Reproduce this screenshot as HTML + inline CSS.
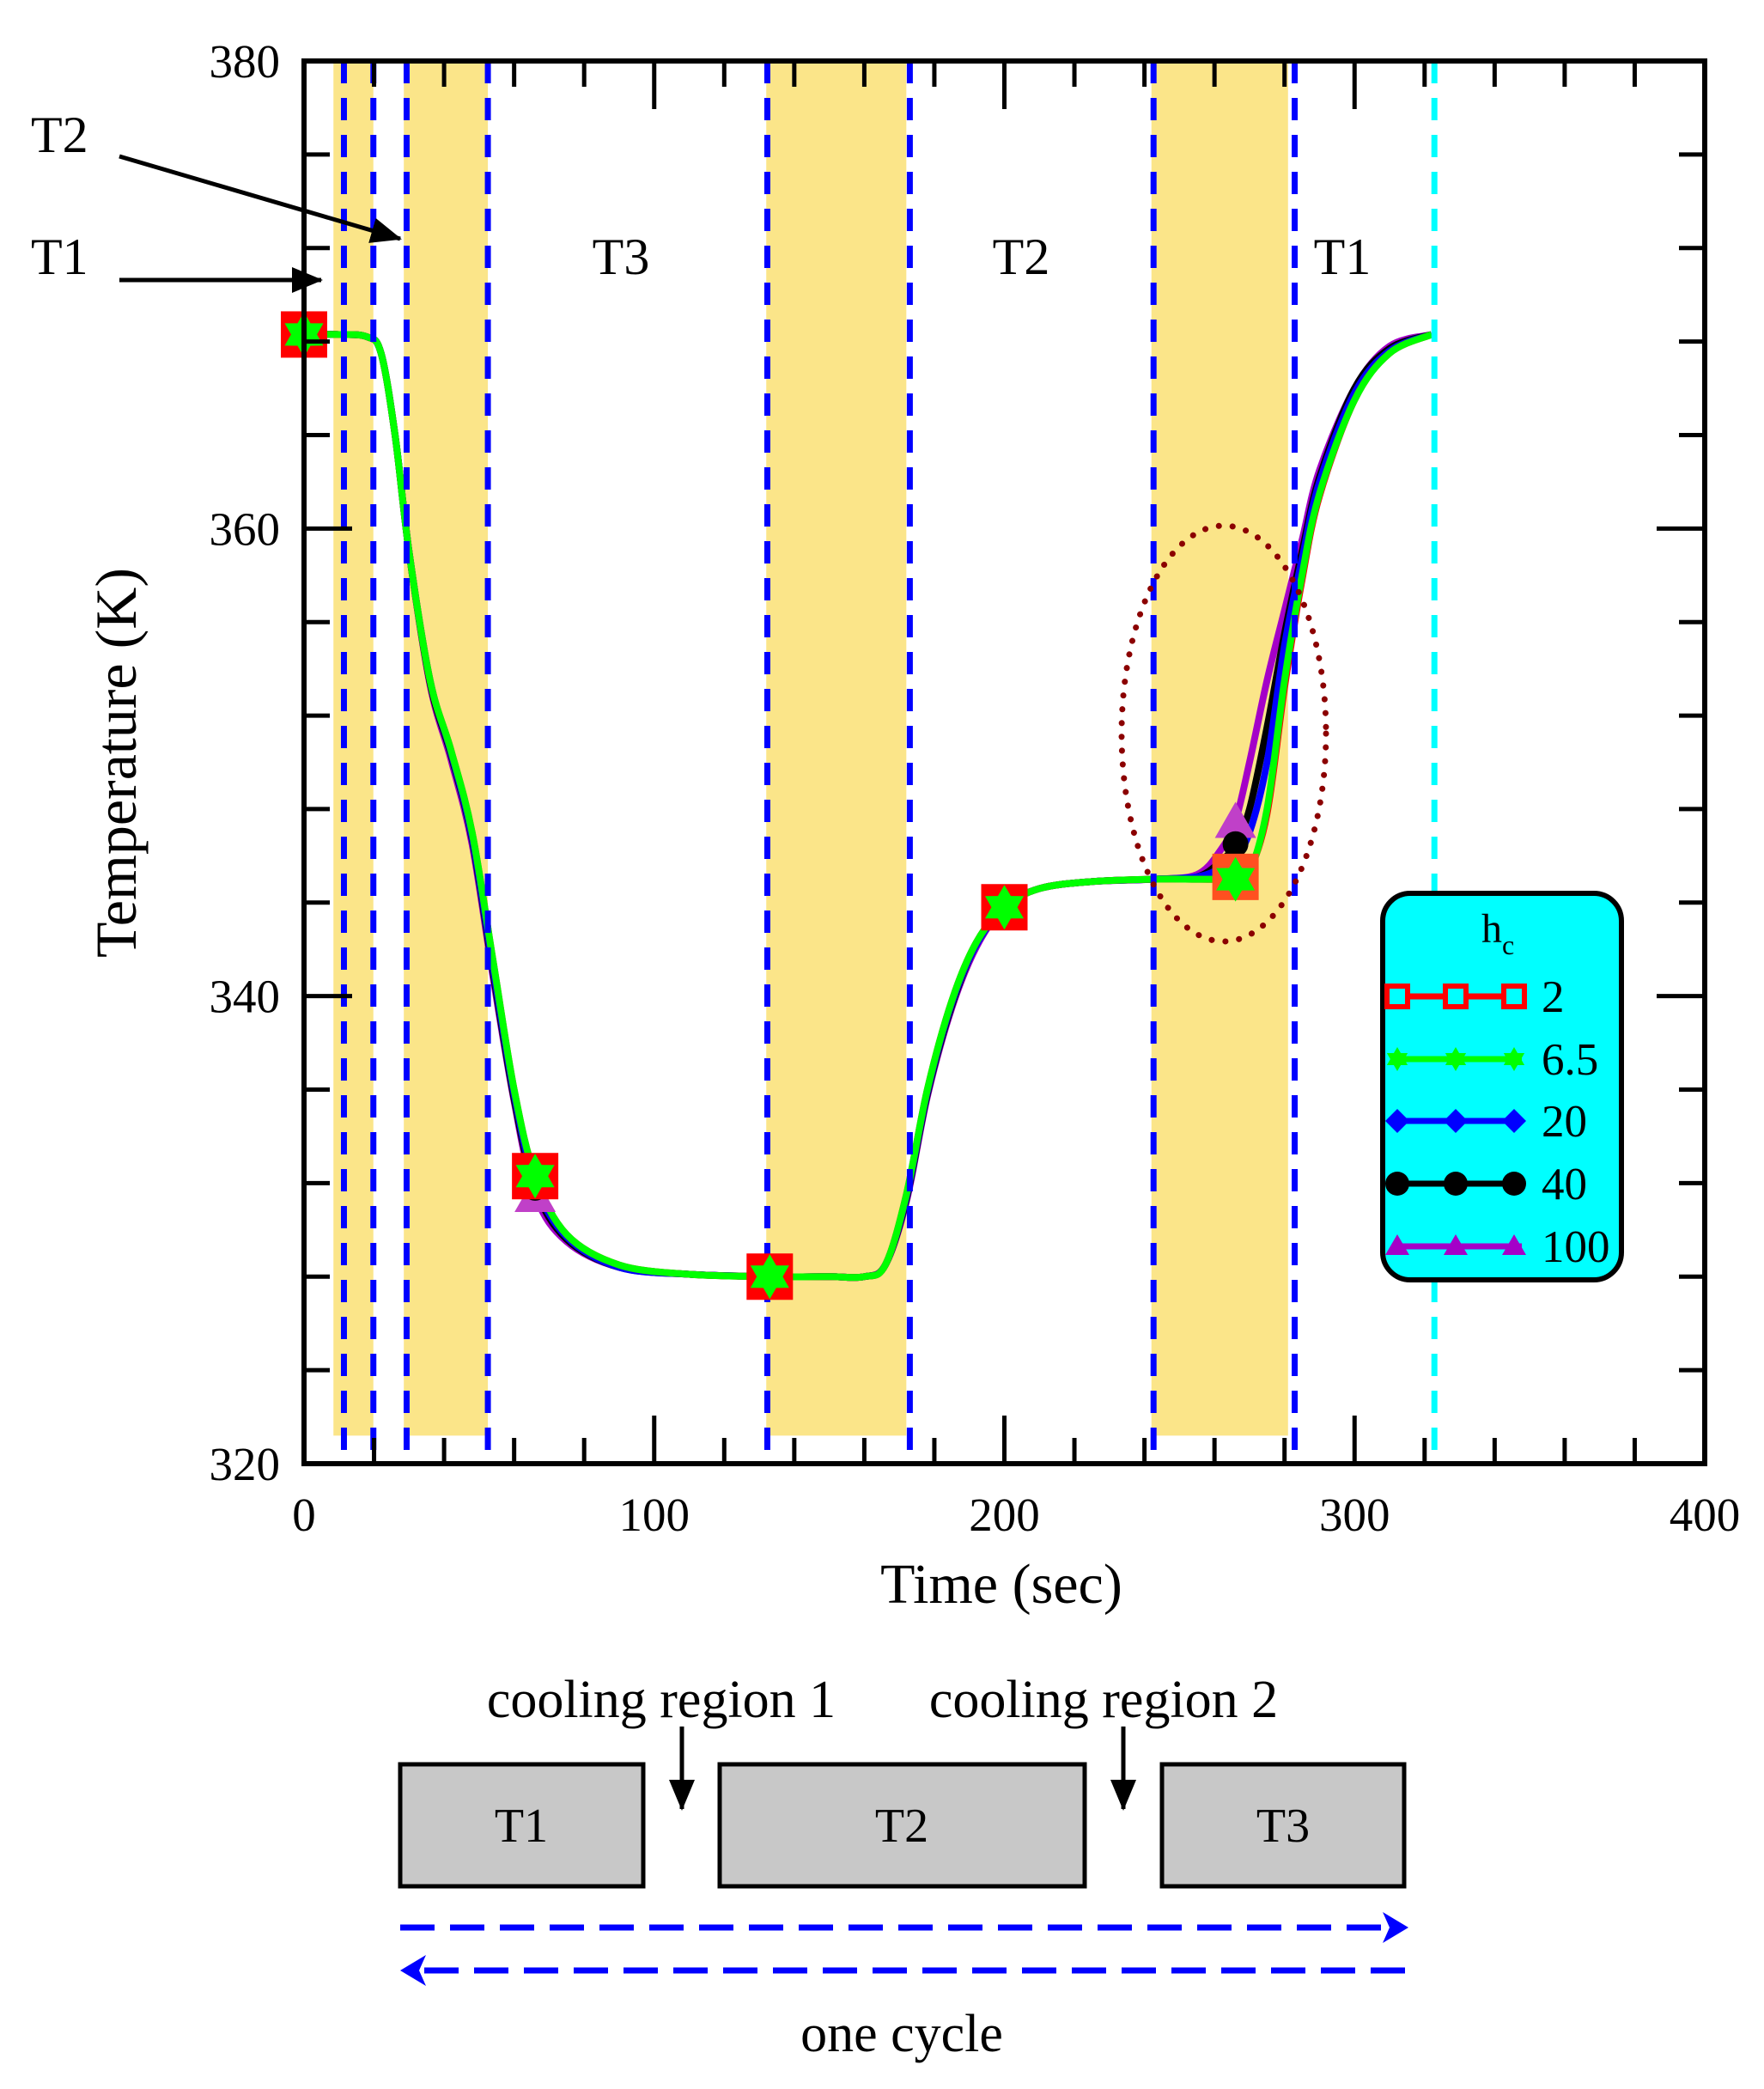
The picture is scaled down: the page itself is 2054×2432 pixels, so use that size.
<!DOCTYPE html>
<html><head><meta charset="utf-8"><style>
html,body{margin:0;padding:0;background:#fff;}
svg{display:block;font-family:"Liberation Serif",serif;}
</style></head><body>
<svg id="chart" width="2054" height="2432" viewBox="0 0 2054 2432" xmlns="http://www.w3.org/2000/svg">
<defs>
<marker id="ah" markerWidth="36" markerHeight="30" refX="34" refY="15" orient="auto" markerUnits="userSpaceOnUse" viewBox="0 0 36 30"><path d="M0,0 L36,15 L0,30 z" fill="#000"/></marker>
</defs>
<g id="shades"></g>
<g id="curves"></g>
<g id="vlines"></g>
<g id="markers"></g>
<g id="axes"></g>
<ellipse cx="1425" cy="854" rx="119" ry="242" fill="none" stroke="#8b0000" stroke-width="7" stroke-dasharray="0.1 16" stroke-linecap="round"/>
<text x="1166" y="1866" font-size="66" text-anchor="middle">Time (sec)</text>
<text transform="translate(158,888) rotate(-90)" font-size="68" text-anchor="middle">Temperature (K)</text>
<text x="36" y="177" font-size="60">T2</text>
<text x="36" y="319" font-size="60">T1</text>
<line x1="139" y1="182" x2="466" y2="278" stroke="#000" stroke-width="5" marker-end="url(#ah)"/>
<line x1="139" y1="326" x2="374" y2="326" stroke="#000" stroke-width="5" marker-end="url(#ah)"/>
<text x="723" y="319" font-size="60" text-anchor="middle">T3</text>
<text x="1189" y="319" font-size="60" text-anchor="middle">T2</text>
<text x="1563" y="319" font-size="60" text-anchor="middle">T1</text>
<g>
<rect x="1610" y="1040" width="278" height="450" rx="32" fill="#00ffff" stroke="#000" stroke-width="6"/>
<text x="1725" y="1097" font-size="48">h<tspan font-size="32" dy="14">c</tspan></text>
<g id="legend"></g>
</g>
<g>
<rect x="466" y="2054" width="283" height="142" fill="#c8c8c8" stroke="#000" stroke-width="5"/>
<rect x="838" y="2054" width="425" height="142" fill="#c8c8c8" stroke="#000" stroke-width="5"/>
<rect x="1353" y="2054" width="282" height="142" fill="#c8c8c8" stroke="#000" stroke-width="5"/>
<text x="607" y="2144" font-size="56" text-anchor="middle">T1</text>
<text x="1050" y="2144" font-size="56" text-anchor="middle">T2</text>
<text x="1494" y="2144" font-size="56" text-anchor="middle">T3</text>
<text x="770" y="1999" font-size="62" text-anchor="middle">cooling region 1</text>
<text x="1285" y="1999" font-size="62" text-anchor="middle">cooling region 2</text>
<line x1="794" y1="2010" x2="794" y2="2106" stroke="#000" stroke-width="5" marker-end="url(#ah)"/>
<line x1="1308" y1="2010" x2="1308" y2="2106" stroke="#000" stroke-width="5" marker-end="url(#ah)"/>
<line x1="466" y1="2244" x2="1615" y2="2244" stroke="#0000ff" stroke-width="7" stroke-dasharray="40 18"/>
<path d="M1640,2244 L1610,2226 L1618,2244 L1610,2262 z" fill="#0000ff"/>
<line x1="1636" y1="2294" x2="488" y2="2294" stroke="#0000ff" stroke-width="7" stroke-dasharray="40 18"/>
<path d="M466,2294 L496,2276 L488,2294 L496,2312 z" fill="#0000ff"/>
<text x="1050" y="2388" font-size="62" text-anchor="middle">one cycle</text>
</g>
</svg>
<script>
const times=[0,10,18,22,26,30,36,42,48,54,60,66,75,90,110,133,150,160,166,172,178,185,192,200,210,225,242,255,262,266,270,275,280,285,290,300,310,322];
const hc65=[368.3,368.3,368.2,367.5,364,359,353.5,350.5,347,341.5,336,332.3,329.8,328.5,328.1,328,328,328,328.5,331.5,336,339.8,342.3,343.8,344.6,344.9,345,345,345,345,345.3,348,353.5,358,361.5,365.5,367.5,368.3];
const hc2=[368.3,368.3,368.2,367.5,364,359,353.5,350.5,347,341.5,336,332.3,329.8,328.5,328.1,328,328,328,328.5,331.5,336,339.8,342.3,343.8,344.6,344.9,345,345,345,345.1,345.4,347.8,353.2,357.8,361.4,365.5,367.5,368.3];
const hc20=[368.3,368.3,368.2,367.5,364,359,353.5,350.4,346.8,341.2,335.8,332,329.7,328.4,328.1,328,328,328,328.5,331.4,335.9,339.7,342.2,343.8,344.6,344.9,345,345.1,345.5,346,347,350,355,358.7,362,365.8,367.6,368.3];
const hc40=[368.3,368.3,368.2,367.5,364,359,353.4,350.3,346.7,341,335.6,331.8,329.6,328.4,328.1,328,328,328,328.5,331.3,335.8,339.6,342.2,343.8,344.6,344.9,345,345.1,345.8,346.5,348,351.5,355.5,359,362.2,366,367.7,368.3];
const hc100=[368.3,368.3,368.2,367.5,364,359,353.3,350.1,346.5,340.8,335.5,331.5,329.5,328.4,328.1,328,328,328,328.5,331.2,335.7,339.5,342.1,343.8,344.6,344.9,345,345.2,346.3,347.5,350,353.5,356.5,359.5,362.5,366,367.8,368.3];
const markerIdx=[0,11,15,23,29];
const shadeStarts=[8.4,28.5,132,242];
const shadeEnds=[19.8,52.5,172,281];
const blueLines=[11.4,19.8,29.3,52.5,132.3,173,242.6,282.9];
const cyanLines=[322.8];
const xTicks=[0,100,200,300,400];
const yTicks=[320,340,360,380];
const legendLabels=["2","6.5","20","40","100"];

const NS="http://www.w3.org/2000/svg";
const X0=354,X1=1985,Y0=1704,Y1=71;
function xs(t){return X0+(t-0)/(400-0)*(X1-X0);}
function ys(v){return Y0-(v-320)/(380-320)*(Y0-Y1);}
function mk(tag,attrs,parent){const e=document.createElementNS(NS,tag);for(const k in attrs)e.setAttribute(k,attrs[k]);parent.appendChild(e);return e;}

const shades=document.getElementById('shades');
for(let i=0;i<shadeStarts.length;i++){
  const r=mk('rect',{x:xs(shadeStarts[i]),y:Y1,width:xs(shadeEnds[i])-xs(shadeStarts[i]),height:ys(321.2)-Y1,fill:'#fbe27c',opacity:0.9},shades);
  
  
}

function pathFor(vals){
  const p=times.map((t,i)=>[xs(t),ys(vals[i])]);
  let d='M'+p[0][0]+','+p[0][1];
  for(let i=0;i<p.length-1;i++){
    const p0=p[Math.max(0,i-1)],p1=p[i],p2=p[i+1],p3=p[Math.min(p.length-1,i+2)];
    const c1=[p1[0]+(p2[0]-p0[0])/6,p1[1]+(p2[1]-p0[1])/6];
    const c2=[p2[0]-(p3[0]-p1[0])/6,p2[1]-(p3[1]-p1[1])/6];
    d+=` C${c1[0]},${c1[1]} ${c2[0]},${c2[1]} ${p2[0]},${p2[1]}`;
  }
  return d;
}
const series=[[hc100,'#a400c8','series-hc-100'],[hc40,'#000000','series-hc-40'],[hc20,'#0000ff','series-hc-20'],[hc2,'#ff0000','series-hc-2'],[hc65,'#00ff00','series-hc-6-5']];
const curves=document.getElementById('curves');
series.forEach(s=>{
  const p=mk('path',{d:pathFor(s[0]),fill:'none',stroke:s[1],'stroke-width':8,'stroke-linejoin':'round'},curves);
  
  
});

const vl=document.getElementById('vlines');
blueLines.forEach(t=>{
  const l=mk('line',{x1:xs(t),x2:xs(t),y1:Y1,y2:Y0,stroke:'#0000ff','stroke-width':7,'stroke-dasharray':'26 17'},vl);
  
  
});
cyanLines.forEach(t=>{
  const l=mk('line',{x1:xs(t),x2:xs(t),y1:Y1,y2:Y0,stroke:'#00ffff','stroke-width':7,'stroke-dasharray':'26 17'},vl);
  
  
});

function star(cx,cy,r){let d='';for(let i=0;i<12;i++){const a=Math.PI/6*i-Math.PI/2;const rr=i%2?r*0.58:r;d+=(i?'L':'M')+(cx+rr*Math.cos(a))+','+(cy+rr*Math.sin(a));}return d+'z';}
const mg=document.getElementById('markers');
markerIdx.forEach(i=>{
  const t=times[i];
  const m1=mk('path',{d:`M${xs(t)-24},${ys(hc100[i])+20} L${xs(t)},${ys(hc100[i])-22} L${xs(t)+24},${ys(hc100[i])+20}z`,fill:'#c040c8'},mg);
  
  
  const m2=mk('circle',{cx:xs(t),cy:ys(hc40[i]),r:15,fill:'#000'},mg);
  
  
  const m3=mk('rect',{x:xs(t)-27,y:ys(hc2[i])-27,width:54,height:54,fill:i===29?'#ff5020':'#ff0000'},mg);
  
  
  const m4=mk('path',{d:star(xs(t),ys(hc65[i]),26),fill:'#00ff00'},mg);
  
  
});

const ax=document.getElementById('axes');
const frame=mk('rect',{x:X0,y:Y1,width:X1-X0,height:Y0-Y1,fill:'none',stroke:'#000','stroke-width':6},ax);


for(let t=0;t<=400;t+=20){
  const L=t%100===0?56:30;
  const a=mk('line',{x1:xs(t),x2:xs(t),y1:Y0,y2:Y0-L,stroke:'#000','stroke-width':5},ax);
  
  
  const b=mk('line',{x1:xs(t),x2:xs(t),y1:Y1,y2:Y1+L,stroke:'#000','stroke-width':5},ax);
  
  
}
for(let v=320;v<=380;v+=4){
  const L=(v-320)%20===0?56:30;
  const a=mk('line',{x1:X0,x2:X0+L,y1:ys(v),y2:ys(v),stroke:'#000','stroke-width':5},ax);
  
  
  const b=mk('line',{x1:X1,x2:X1-L,y1:ys(v),y2:ys(v),stroke:'#000','stroke-width':5},ax);
  
  
}
xTicks.forEach(t=>{
  const e=mk('text',{x:xs(t),y:1782,'font-size':55,'text-anchor':'middle'},ax);
  e.textContent=t;
  
  
});
yTicks.forEach(v=>{
  const e=mk('text',{x:326,y:ys(v)+19,'font-size':55,'text-anchor':'end'},ax);
  e.textContent=v;
  
  
});

const lg=document.getElementById('legend');
const lcol=['#ff0000','#00ff00','#0000ff','#000000','#a400c8'];
const lys=[1160,1233,1305,1378,1451];
legendLabels.forEach((lab,i)=>{
  const y=lys[i];
  const l=mk('line',{x1:1626,x2:1772,y1:y,y2:y,stroke:lcol[i],'stroke-width':7},lg);
  
  
  [1627,1695,1763].forEach(x=>{
    let m;
    if(i===0)m=mk('rect',{x:x-12,y:y-12,width:24,height:24,fill:'#00ffff',stroke:'#ff0000','stroke-width':6},lg);
    else if(i===1)m=mk('path',{d:star(x,y,14),fill:'#00ff00'},lg);
    else if(i===2)m=mk('path',{d:`M${x-14},${y} L${x},${y-14} L${x+14},${y} L${x},${y+14}z`,fill:'#0000ff'},lg);
    else if(i===3)m=mk('circle',{cx:x,cy:y,r:14,fill:'#000'},lg);
    else m=mk('path',{d:`M${x-14},${y+10} L${x},${y-14} L${x+14},${y+10}z`,fill:'#a400c8'},lg);
    
    
  });
  const t=mk('text',{x:1795,y:y+18,'font-size':53},lg);
  t.textContent=lab;
  
  
});
</script>
</body></html>
